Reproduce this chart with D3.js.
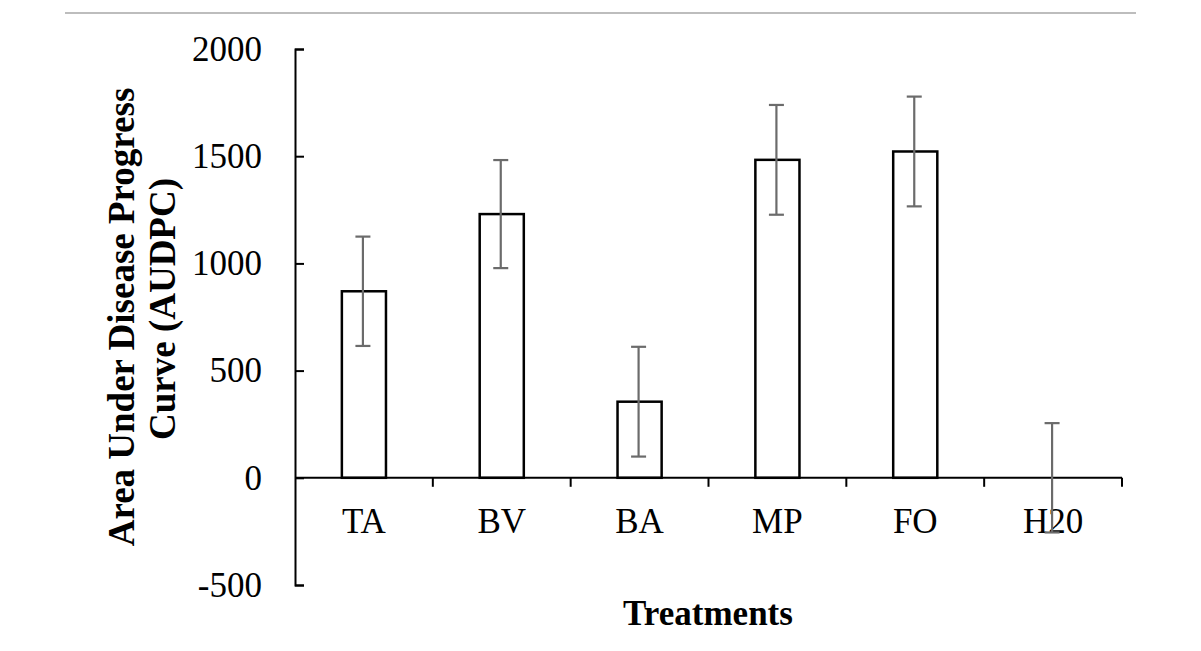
<!DOCTYPE html>
<html lang="en">
<head>
<meta charset="UTF-8">
<title>AUDPC by treatment</title>
<script src="https://d3js.org/d3.v7.min.js"></script>
<style>
    body { margin: 0; background: #fff; }
    svg text { font-family: "Liberation Serif", "Times New Roman", serif; fill: #000; }
</style>
</head>
<body>
<svg id="chart" width="1201" height="651"></svg>
<script>
    // data
    let treatments = ["TA", "BV", "BA", "MP", "FO", "H20"];
    let audpc = [870, 1230, 355, 1483, 1522, 0];
    let stdErr = [255, 252, 256, 256, 256, 255];
    let yTicks = [-500, 0, 500, 1000, 1500, 2000];

    let svg = d3.select("#chart");

    // thin grey rule at the top of the page
    svg.append("line")
        .attr("x1", 65).attr("x2", 1136)
        .attr("y1", 13).attr("y2", 13)
        .attr("stroke", "#bdbdbd")
        .attr("stroke-width", 2);

    let x = d3.scaleBand()
        .domain(treatments)
        .range([295, 1122])
        .padding(0);

    let y = d3.scaleLinear()
        .domain([-500, 2000])
        .range([585, 49]);

    let barW = x.bandwidth() * 0.32;

    // y axis, ticks point inward
    let yAxis = d3.axisLeft(y)
        .tickValues(yTicks)
        .tickSizeInner(-9)
        .tickSizeOuter(-9)
        .tickPadding(33)
        .tickFormat((d) => String(d));   // plain hyphen for -500

    let gy = svg.append("g")
        .attr("transform", "translate(295,0)")
        .call(yAxis);
    gy.selectAll("path, line").attr("stroke", "#000").attr("stroke-width", 2);
    gy.selectAll("text")
        .attr("font-size", 35)
        .style("font-family", "'Liberation Serif', 'Times New Roman', serif");

    // bars
    svg.append("g").selectAll("rect")
        .data(treatments)
        .join("rect")
        .attr("x", (d) => x(d) + x.bandwidth() / 2 - barW / 2)
        .attr("width", barW)
        .attr("y", (d, i) => y(Math.max(0, audpc[i])))
        .attr("height", (d, i) => Math.abs(y(audpc[i]) - y(0)))
        .attr("fill", "#fff")
        .attr("stroke", (d, i) => audpc[i] === 0 ? "none" : "#000")
        .attr("stroke-width", 2.5);

    // x axis along zero, ticks between categories
    let gx = svg.append("g");
    gx.append("line")
        .attr("x1", x.range()[0]).attr("x2", x.range()[1])
        .attr("y1", y(0)).attr("y2", y(0))
        .attr("stroke", "#000").attr("stroke-width", 2);
    gx.selectAll("line.tick")
        .data(treatments)
        .join("line")
        .attr("class", "tick")
        .attr("x1", (d) => x(d) + x.bandwidth())
        .attr("x2", (d) => x(d) + x.bandwidth())
        .attr("y1", y(0)).attr("y2", y(0) + 9)
        .attr("stroke", "#000").attr("stroke-width", 2);
    gx.selectAll("text")
        .data(treatments)
        .join("text")
        .attr("x", (d) => x(d) + x.bandwidth() / 2)
        .attr("y", y(0) + 55)
        .attr("text-anchor", "middle")
        .attr("font-size", 35)
        .text((d) => d);

    // error bars
    let errG = svg.append("g")
        .attr("stroke", "#6b6b6b")
        .attr("stroke-width", 2.2);
    treatments.forEach((d, i) => {
        let cx = x(d) + x.bandwidth() / 2 - 1;
        let lo = y(audpc[i] - stdErr[i]);
        let hi = y(audpc[i] + stdErr[i]);
        errG.append("line").attr("x1", cx).attr("x2", cx).attr("y1", lo).attr("y2", hi);
        errG.append("line").attr("x1", cx - 7.5).attr("x2", cx + 7.5).attr("y1", lo).attr("y2", lo);
        errG.append("line").attr("x1", cx - 7.5).attr("x2", cx + 7.5).attr("y1", hi).attr("y2", hi);
    });

    // axis titles
    svg.append("text")
        .attr("x", 708)
        .attr("y", 625)
        .attr("text-anchor", "middle")
        .attr("font-size", 35)
        .attr("font-weight", "bold")
        .text("Treatments");

    svg.append("text")
        .attr("transform", "translate(134,317) rotate(-90)")
        .attr("text-anchor", "middle")
        .attr("font-size", 37)
        .attr("font-weight", "bold")
        .text("Area Under Disease Progress");

    svg.append("text")
        .attr("transform", "translate(175,309) rotate(-90)")
        .attr("text-anchor", "middle")
        .attr("font-size", 37)
        .attr("font-weight", "bold")
        .text("Curve (AUDPC)");
</script>
</body>
</html>
